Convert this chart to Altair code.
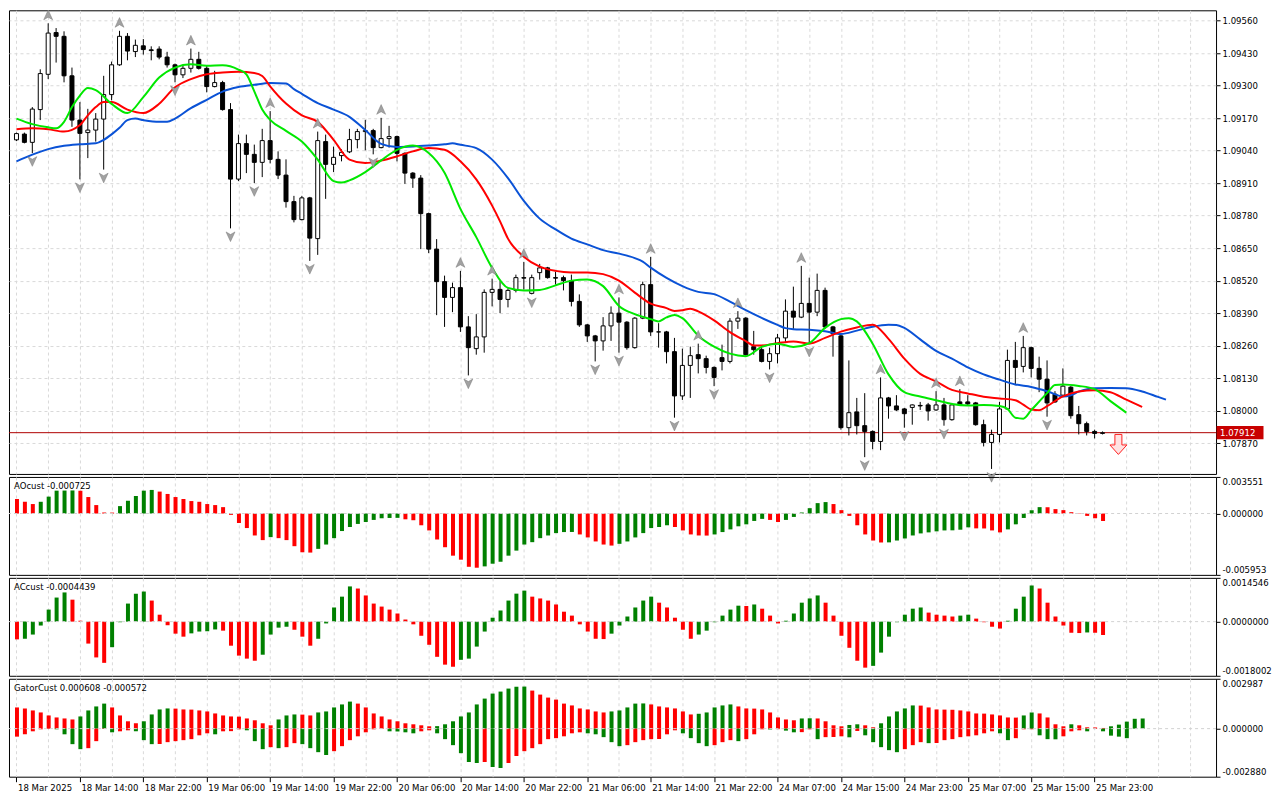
import altair as alt
import pandas as pd

# ---------------- data ----------------
time_labels = ["18 Mar 2025", "18 Mar 14:00", "18 Mar 22:00", "19 Mar 06:00", "19 Mar 14:00",
               "19 Mar 22:00", "20 Mar 06:00", "20 Mar 14:00", "20 Mar 22:00", "21 Mar 06:00",
               "21 Mar 14:00", "21 Mar 22:00", "24 Mar 07:00", "24 Mar 15:00", "24 Mar 23:00",
               "25 Mar 07:00", "25 Mar 15:00", "25 Mar 23:00"]

price_ticks = [1.07870, 1.08000, 1.08130, 1.08260, 1.08390, 1.08520, 1.08650,
               1.08780, 1.08910, 1.09040, 1.09170, 1.09300, 1.09430, 1.09560]

opens = [1.09083,1.09106,1.09073,1.09204,1.09345,1.09512,1.09497,1.09339,1.09162,1.09112,
 1.09122,1.09166,1.09264,1.09383,1.09497,1.09436,1.09459,1.09443,1.09446,1.09414,
 1.09383,1.09343,1.09369,1.09405,1.09369,1.09296,1.09312,1.09204,1.08926,1.09068,
 1.09025,1.08993,1.09080,1.09005,1.08942,1.08836,1.08764,1.08851,1.08688,1.09076,
 1.08985,1.09020,1.09035,1.09084,1.09116,1.09120,1.09052,1.09088,1.09096,1.09029,
 1.08950,1.08930,1.08788,1.08646,1.08516,1.08453,1.08492,1.08335,1.08248,1.08295,
 1.08473,1.08485,1.08445,1.08481,1.08532,1.08469,1.08552,1.08571,1.08532,1.08532,
 1.08520,1.08437,1.08343,1.08299,1.08279,1.08339,1.08390,1.08354,1.08252,1.08370,
 1.08504,1.08315,1.08315,1.08236,1.08059,1.08181,1.08224,1.08208,1.08173,1.08212,
 1.08197,1.08358,1.08370,1.08256,1.08244,1.08197,1.08228,1.08291,1.08398,1.08374,
 1.08429,1.08394,1.08481,1.08335,1.08299,1.07932,1.07995,1.07940,1.07917,1.07877,
 1.08051,1.08019,1.08007,1.08013,1.08021,1.08023,1.08003,1.08023,1.07964,1.08035,
 1.08035,1.08031,1.07944,1.07873,1.07905,1.08007,1.08201,1.08177,1.08252,1.08169,
 1.08126,1.08066,1.08062,1.08094,1.07984,1.07948,1.07917,1.07909]

highs = [1.09112,1.09112,1.09214,1.09365,1.09549,1.09530,1.09517,1.09372,1.09234,1.09207,
 1.09190,1.09339,1.09396,1.09519,1.09510,1.09484,1.09486,1.09457,1.09457,1.09435,
 1.09388,1.09383,1.09448,1.09435,1.09379,1.09359,1.09319,1.09230,1.09104,1.09104,
 1.09064,1.09127,1.09198,1.09037,1.09005,1.08859,1.08859,1.08855,1.09116,1.09104,
 1.09056,1.09045,1.09127,1.09127,1.09163,1.09127,1.09171,1.09139,1.09100,1.09033,
 1.08954,1.08942,1.08792,1.08686,1.08540,1.08512,1.08559,1.08378,1.08386,1.08485,
 1.08528,1.08520,1.08489,1.08544,1.08595,1.08544,1.08587,1.08575,1.08556,1.08540,
 1.08544,1.08465,1.08347,1.08303,1.08374,1.08417,1.08453,1.08358,1.08374,1.08516,
 1.08615,1.08350,1.08319,1.08291,1.08248,1.08256,1.08268,1.08220,1.08177,1.08264,
 1.08370,1.08398,1.08374,1.08319,1.08260,1.08252,1.08307,1.08445,1.08496,1.08579,
 1.08532,1.08548,1.08492,1.08339,1.08303,1.08201,1.08051,1.08070,1.07921,1.08133,
 1.08055,1.08062,1.08011,1.08025,1.08035,1.08031,1.08078,1.08051,1.08031,1.08086,
 1.08062,1.08035,1.07964,1.07924,1.08035,1.08244,1.08275,1.08299,1.08256,1.08216,
 1.08201,1.08078,1.08169,1.08098,1.08019,1.07956,1.07924,1.07917]

lows = [1.09078,1.09069,1.09030,1.09162,1.09326,1.09392,1.09313,1.09135,1.08925,1.09010,
 1.09076,1.08964,1.09241,1.09379,1.09401,1.09414,1.09424,1.09401,1.09405,1.09372,
 1.09313,1.09330,1.09352,1.09364,1.09273,1.09293,1.09200,1.08729,1.08918,1.08950,
 1.08910,1.08934,1.08989,1.08926,1.08812,1.08753,1.08761,1.08599,1.08623,1.08847,
 1.08954,1.08997,1.09030,1.09049,1.09041,1.09025,1.09049,1.09052,1.08997,1.08907,
 1.08891,1.08646,1.08630,1.08382,1.08335,1.08394,1.08315,1.08141,1.08224,1.08232,
 1.08417,1.08390,1.08413,1.08473,1.08484,1.08465,1.08524,1.08528,1.08504,1.08481,
 1.08417,1.08335,1.08275,1.08197,1.08240,1.08279,1.08232,1.08244,1.08248,1.08366,
 1.08299,1.08252,1.08189,1.07972,1.08043,1.08051,1.08149,1.08149,1.08098,1.08161,
 1.08189,1.08327,1.08220,1.08224,1.08193,1.08165,1.08189,1.08275,1.08327,1.08370,
 1.08268,1.08378,1.08327,1.08216,1.07924,1.07901,1.07905,1.07814,1.07846,1.07842,
 1.07968,1.07999,1.07932,1.07944,1.08003,1.07960,1.07999,1.07940,1.07960,1.08023,
 1.08023,1.07940,1.07857,1.07767,1.07873,1.08003,1.08102,1.08153,1.08133,1.08074,
 1.07976,1.08031,1.08059,1.07968,1.07905,1.07901,1.07889,1.07905]

closes = [1.09108,1.09073,1.09206,1.09348,1.09510,1.09497,1.09339,1.09162,1.09109,1.09122,
 1.09166,1.09264,1.09383,1.09497,1.09438,1.09461,1.09444,1.09440,1.09414,1.09383,
 1.09343,1.09369,1.09405,1.09369,1.09296,1.09312,1.09204,1.08926,1.09068,1.09025,
 1.08993,1.09080,1.09005,1.08942,1.08836,1.08764,1.08851,1.08690,1.09080,1.08985,
 1.09013,1.09033,1.09084,1.09116,1.09120,1.09052,1.09088,1.09096,1.09029,1.08950,
 1.08930,1.08788,1.08646,1.08516,1.08453,1.08492,1.08335,1.08252,1.08295,1.08473,
 1.08485,1.08445,1.08481,1.08532,1.08530,1.08532,1.08571,1.08532,1.08530,1.08520,
 1.08437,1.08343,1.08299,1.08279,1.08339,1.08390,1.08354,1.08252,1.08370,1.08504,
 1.08315,1.08315,1.08236,1.08059,1.08181,1.08220,1.08208,1.08173,1.08133,1.08197,
 1.08358,1.08370,1.08224,1.08244,1.08197,1.08228,1.08291,1.08398,1.08374,1.08429,
 1.08394,1.08481,1.08335,1.08307,1.07932,1.07992,1.07940,1.07917,1.07877,1.08051,
 1.08019,1.08003,1.07988,1.08023,1.08019,1.07999,1.08023,1.07964,1.08023,1.08023,
 1.08027,1.07944,1.07873,1.07905,1.08007,1.08201,1.08173,1.08252,1.08169,1.08126,
 1.08031,1.08035,1.08098,1.07980,1.07948,1.07917,1.07909,1.07912]

# Alligator lines (bar position, value)
lips_pos = [0,2,4,5,6,7,8,9,10,12,14,16,18,20,22,24,26,28,29,30,31,32,34,36,38,40,41,
 42,44,46,48,50,52,54,56,58,60,62,64,66,68,70,72,74,76,78,80,81,82,83,84,86,88,90,
 92,94,96,98,100,102,104,105,106,108,110,112,114,116,118,120,122,124,125,126,127,128,
 130,131,132,134,136,138,140]
lips_val = [1.09168,1.09146,1.09133,1.09129,1.09155,1.09214,1.09260,1.09290,1.09282,
 1.09227,1.09190,1.09254,1.09332,1.09372,1.09385,1.09379,1.09381,1.09364,
 1.09345,1.09277,1.09204,1.09163,1.09119,1.09076,1.09004,1.08918,1.08912,
 1.08921,1.08954,1.09001,1.09043,1.09060,1.09030,1.08951,1.08807,1.08694,
 1.08571,1.08491,1.08481,1.08483,1.08501,1.08520,1.08525,1.08498,1.08419,
 1.08386,1.08366,1.08357,1.08373,1.08383,1.08370,1.08300,1.08256,1.08228,
 1.08218,1.08255,1.08268,1.08255,1.08270,1.08331,1.08366,1.08370,1.08357,
 1.08268,1.08145,1.08074,1.08057,1.08042,1.08027,1.08021,1.08023,1.08019,
 1.08007,1.07972,1.07968,1.08002,1.08070,1.08103,1.08105,1.08099,1.08086,
 1.08038,1.07992]

teeth_pos = [0,2,4,6,8,9,10,11,12,14,16,18,20,22,24,26,28,30,31,32,34,36,38,40,42,44,46,
 48,50,52,54,56,58,60,61,62,64,66,68,70,72,74,76,78,80,82,83,84,85,86,88,90,92,93,
 94,96,98,100,102,104,106,108,110,112,114,116,118,120,122,124,126,127,128,129,130,
 132,134,136,138,140,142]
teeth_val = [1.09125,1.09129,1.09125,1.09116,1.09142,1.09181,1.09214,1.09234,1.09234,
 1.09204,1.09190,1.09227,1.09293,1.09326,1.09345,1.09352,1.09355,1.09350,
 1.09338,1.09297,1.09228,1.09181,1.09155,1.09083,1.09004,1.08990,1.09000,
 1.09017,1.09037,1.09050,1.09043,1.08997,1.08925,1.08820,1.08757,1.08688,
 1.08616,1.08576,1.08559,1.08553,1.08553,1.08546,1.08520,1.08472,1.08428,
 1.08410,1.08399,1.08402,1.08408,1.08397,1.08361,1.08314,1.08278,1.08261,
 1.08261,1.08270,1.08277,1.08268,1.08291,1.08316,1.08333,1.08344,1.08287,
 1.08208,1.08147,1.08117,1.08083,1.08069,1.08056,1.08049,1.08042,1.08024,
 1.08005,1.08002,1.08018,1.08057,1.08077,1.08082,1.08074,1.08044,1.08015]

jaw_pos = [0,2,4,6,8,10,11,12,13,14,15,16,18,19,20,22,24,26,28,30,32,34,35,36,38,40,42,
 44,46,48,50,52,54,55,56,58,60,62,64,66,68,70,72,74,76,78,79,80,82,84,86,88,90,92,
 94,96,97,98,100,102,104,106,108,110,111,112,114,116,118,120,122,124,126,128,130,
 132,133,134,136,138,140,142,144,145]
jaw_val = [1.08997,1.09024,1.09046,1.09059,1.09065,1.09069,1.09083,1.09105,1.09131,
 1.09162,1.09168,1.09162,1.09155,1.09155,1.09168,1.09210,1.09243,1.09276,
 1.09294,1.09303,1.09310,1.09308,1.09286,1.09267,1.09230,1.09204,1.09175,
 1.09122,1.09067,1.09054,1.09056,1.09060,1.09065,1.09069,1.09063,1.09050,
 1.09004,1.08930,1.08839,1.08768,1.08725,1.08688,1.08665,1.08642,1.08628,
 1.08610,1.08596,1.08572,1.08531,1.08498,1.08475,1.08466,1.08436,1.08402,
 1.08371,1.08343,1.08330,1.08326,1.08324,1.08318,1.08307,1.08320,1.08336,
 1.08344,1.08343,1.08331,1.08285,1.08239,1.08208,1.08173,1.08145,1.08124,
 1.08105,1.08095,1.08078,1.08057,1.08062,1.08076,1.08090,1.08091,1.08090,
 1.08077,1.08055,1.08044]

fractal_up = [4, 13, 22, 32, 38, 46, 56, 60, 64, 76, 80, 86, 91, 99, 109, 116, 119, 127]
fractal_down = [2, 8, 11, 20, 27, 30, 37, 45, 57, 65, 73, 76, 83, 88, 95, 100, 107, 112,
                117, 123, 130]

current_price = [1.07912]
signal_pos = [139]
signal_price = [1.07865]

ao = [0.00141,0.00114,0.00092,0.00114,0.00164,0.00222,0.00223,0.00224,0.00221,0.00160,
 0.00082,0.00010,0.00009,0.00072,0.00124,0.00170,0.00222,0.00229,0.00213,0.00190,
 0.00160,0.00141,0.00121,0.00114,0.00092,0.00082,0.00062,-0.00013,-0.00092,-0.00141,
 -0.00213,-0.00258,-0.00229,-0.00239,-0.00258,-0.00317,-0.00376,-0.00379,-0.00343,-0.00301,
 -0.00239,-0.00170,-0.00131,-0.00101,-0.00082,-0.00062,-0.00046,-0.00043,-0.00042,-0.00056,
 -0.00065,-0.00114,-0.00164,-0.00252,-0.00327,-0.00409,-0.00448,-0.00517,-0.00526,-0.00513,
 -0.00487,-0.00468,-0.00409,-0.00360,-0.00301,-0.00278,-0.00239,-0.00213,-0.00190,-0.00180,
 -0.00179,-0.00203,-0.00232,-0.00271,-0.00301,-0.00311,-0.00294,-0.00271,-0.00232,-0.00190,
 -0.00141,-0.00131,-0.00114,-0.00131,-0.00164,-0.00203,-0.00213,-0.00214,-0.00203,-0.00180,
 -0.00154,-0.00124,-0.00105,-0.00072,-0.00052,-0.00062,-0.00082,-0.00062,-0.00033,0.00010,
 0.00052,0.00101,0.00111,0.00092,0.00033,-0.00023,-0.00114,-0.00203,-0.00262,-0.00281,
 -0.00280,-0.00262,-0.00242,-0.00213,-0.00193,-0.00183,-0.00173,-0.00164,-0.00163,-0.00157,
 -0.00134,-0.00144,-0.00145,-0.00164,-0.00183,-0.00154,-0.00105,-0.00043,0.00033,0.00062,
 0.00061,0.00043,0.00033,0.00013,-0.00003,-0.00023,-0.00046,-0.000725]

ac = [-0.00059,-0.00057,-0.00043,-0.00013,0.00040,0.00080,0.00097,0.00073,0.00003,-0.00073,
 -0.00119,-0.00137,-0.00085,-0.00002,0.00060,0.00093,0.00100,0.00070,0.00023,-0.00012,
 -0.00040,-0.00050,-0.00039,-0.00033,-0.00032,-0.00026,-0.00030,-0.00080,-0.00113,-0.00123,
 -0.00130,-0.00110,-0.00043,-0.00020,-0.00017,-0.00027,-0.00050,-0.00080,-0.00057,-0.00006,
 0.00047,0.00083,0.00117,0.00110,0.00087,0.00060,0.00050,0.00040,0.00027,0.00007,
 -0.00009,-0.00047,-0.00077,-0.00117,-0.00143,-0.00150,-0.00127,-0.00123,-0.00083,-0.00033,
 0.00013,0.00037,0.00070,0.00093,0.00103,0.00083,0.00077,0.00070,0.00057,0.00033,
 0.00020,-0.00009,-0.00033,-0.00057,-0.00058,-0.00040,-0.00013,0.00017,0.00047,0.00070,
 0.00083,0.00063,0.00047,0.00013,-0.00027,-0.00057,-0.00043,-0.00030,-0.00002,0.00020,
 0.00040,0.00053,0.00052,0.00057,0.00043,0.00020,-0.00006,0.00003,0.00027,0.00063,
 0.00077,0.00087,0.00063,0.00020,-0.00047,-0.00087,-0.00130,-0.00153,-0.00147,-0.00103,
 -0.00050,-0.00002,0.00023,0.00043,0.00047,0.00030,0.00023,0.00020,0.00017,0.00020,
 0.00023,0.00010,-0.00002,-0.00017,-0.00023,0.00003,0.00043,0.00083,0.00120,0.00110,
 0.00063,0.00017,-0.00013,-0.00037,-0.00038,-0.00036,-0.00037,-0.0004439]

gator_up = [0.00127,0.00121,0.00109,0.00097,0.00079,0.00067,0.00061,0.00055,0.00073,0.00109,
 0.00133,0.00150,0.00127,0.00079,0.00044,0.00032,0.00044,0.00085,0.00115,0.00121,
 0.00120,0.00115,0.00114,0.00109,0.00103,0.00091,0.00079,0.00073,0.00072,0.00061,
 0.00050,0.00032,0.00020,0.00055,0.00079,0.00085,0.00084,0.00079,0.00097,0.00103,
 0.00127,0.00145,0.00162,0.00150,0.00127,0.00091,0.00073,0.00055,0.00044,0.00032,
 0.00026,0.00020,0.00014,0.00015,0.00026,0.00044,0.00073,0.00097,0.00145,0.00180,
 0.00210,0.00222,0.00240,0.00251,0.00252,0.00228,0.00204,0.00186,0.00174,0.00150,
 0.00139,0.00121,0.00115,0.00103,0.00097,0.00103,0.00109,0.00127,0.00150,0.00151,
 0.00145,0.00133,0.00127,0.00121,0.00103,0.00085,0.00089,0.00097,0.00127,0.00139,
 0.00145,0.00133,0.00121,0.00120,0.00115,0.00097,0.00067,0.00055,0.00050,0.00061,
 0.00062,0.00061,0.00044,0.00020,0.00014,0.00022,0.00026,0.00020,0.00008,0.00032,
 0.00073,0.00103,0.00121,0.00139,0.00138,0.00127,0.00115,0.00114,0.00113,0.00109,
 0.00103,0.00091,0.00090,0.00085,0.00079,0.00067,0.00066,0.00079,0.00097,0.00091,
 0.00067,0.00026,0.00014,0.00026,0.00020,0.00008,0.00007,0.00004,0.00014,0.00024,
 0.00042,0.00059,0.000608]

gator_down = [-0.00048,-0.00034,-0.00016,-0.00004,-0.00001,-0.00004,-0.00034,-0.00093,-0.00123,-0.00117,
 -0.00075,-0.00002,-0.00022,-0.00016,-0.00010,-0.00016,-0.00069,-0.00093,-0.00092,-0.00081,
 -0.00075,-0.00069,-0.00063,-0.00040,-0.00028,-0.00034,-0.00016,-0.00015,-0.00004,-0.00010,
 -0.00075,-0.00123,-0.00111,-0.00117,-0.00111,-0.00087,-0.00093,-0.00117,-0.00141,-0.00158,
 -0.00135,-0.00105,-0.00069,-0.00046,-0.00022,-0.00004,-0.00002,-0.00016,-0.00017,-0.00022,
 -0.00028,-0.00016,-0.00010,-0.00028,-0.00063,-0.00099,-0.00147,-0.00200,-0.00206,-0.00200,
 -0.00230,-0.00236,-0.00206,-0.00164,-0.00135,-0.00117,-0.00093,-0.00063,-0.00057,-0.00046,
 -0.00028,-0.00022,-0.00028,-0.00034,-0.00051,-0.00081,-0.00105,-0.00099,-0.00081,-0.00069,
 -0.00063,-0.00062,-0.00034,-0.00010,-0.00028,-0.00057,-0.00087,-0.00105,-0.00099,-0.00081,
 -0.00069,-0.00075,-0.00063,-0.00034,-0.00004,-0.00005,-0.00003,-0.00012,-0.00022,-0.00021,
 -0.00004,-0.00063,-0.00051,-0.00050,-0.00046,-0.00052,-0.00014,-0.00040,-0.00081,-0.00111,
 -0.00129,-0.00141,-0.00123,-0.00099,-0.00081,-0.00087,-0.00086,-0.00069,-0.00063,-0.00051,
 -0.00046,-0.00040,-0.00028,-0.00016,-0.00028,-0.00069,-0.00057,-0.00004,-0.00003,-0.00040,
 -0.00063,-0.00064,-0.00046,-0.00016,-0.00010,-0.00016,-0.00002,-0.00016,-0.00042,-0.00048,
 -0.000572]

ao_range = [-0.005953, 0.003551]
ac_range = [-0.0018002, 0.0014546]
gator_range = [-0.002880, 0.002987]
ao_title = "AOcust -0.000725"
ac_title = "ACcust -0.0004439"
gator_title = "GatorCust 0.000608 -0.000572"

# ---------------- layout / style ----------------
W = 1208
H_MAIN = 464
H_SUB = 98
FONT = "DejaVu Sans Condensed, Liberation Sans, sans-serif"
FS = 9.5
GREEN = "#008000"
RED = "#ff0000"
XDOM = [-0.3125, 150.6875]
GRID_VALS = list(range(0, 151, 4))

XS = alt.Scale(domain=XDOM, nice=False, zero=False)
AX_X_GRID = alt.Axis(values=GRID_VALS, grid=True, labels=False, ticks=False,
                     domain=False, title=None)
lbl_array = "[" + ",".join("'" + s + "'" for s in time_labels) + "]"
last_lbl = 8 * (len(time_labels) - 1)
lbl_test = f"datum.value % 8 === 0 && datum.value <= {last_lbl}"
AX_X_BOTTOM = alt.Axis(values=GRID_VALS, grid=True, domain=False, title=None,
                       labelExpr=f"{lbl_test} ? {lbl_array}[datum.value / 8] : ''",
                       labelAlign="left", labelBaseline="top", labelPadding=1,
                       labelOffset=1, labelOverlap=False, labelFlush=False,
                       tickSize=5,
                       tickOpacity={"condition": {"test": lbl_test, "value": 1}, "value": 0})

YS_MAIN = alt.Scale(domain=[1.07747, 1.09601], nice=False, zero=False)
AX_Y_MAIN = alt.Axis(orient="right", values=price_ticks, format=".5f", grid=True,
                     tickSize=4, domain=False, title=None, labelPadding=2)


def xm(field="pos:Q", axis=AX_X_GRID):
    return alt.X(field, scale=XS, axis=axis)


def ym(field):
    return alt.Y(field, scale=YS_MAIN, axis=AX_Y_MAIN)


# ---------------- main panel ----------------
cdf = pd.DataFrame({"pos": list(range(len(opens))), "open": opens, "high": highs,
                    "low": lows, "close": closes})

price_df = pd.DataFrame({"price": current_price,
                         "label": [f"{p:.5f}" for p in current_price]})
price_rule = alt.Chart(price_df).mark_rule(color="#b00000", strokeWidth=1).encode(
    y=ym("price:Q"))

wicks = alt.Chart(cdf).mark_rule(color="black", strokeWidth=1).encode(
    x=xm(), y=ym("low:Q"), y2="high:Q")
bodies = alt.Chart(cdf).mark_bar(width=4, stroke="black", strokeWidth=1).encode(
    x=xm(), y=ym("open:Q"), y2="close:Q",
    fill=alt.condition("datum.close >= datum.open", alt.value("white"), alt.value("black")))


def line_layer(pos, val, color):
    d = pd.DataFrame({"pos": pos, "v": val})
    return alt.Chart(d).mark_line(color=color, strokeWidth=2, interpolate="monotone").encode(
        x=xm(), y=ym("v:Q"))


jaw = line_layer(jaw_pos, jaw_val, "#0a52d6")
teeth = line_layer(teeth_pos, teeth_val, "#ff0000")
lips = line_layer(lips_pos, lips_val, "#00e800")

UP_PATH = "M0,-1L0.85,0.85L0,0.35L-0.85,0.85Z"
DN_PATH = "M0,1L0.85,-0.85L0,-0.35L-0.85,-0.85Z"
fu = pd.DataFrame({"pos": fractal_up, "p": [highs[i] for i in fractal_up]})
fd = pd.DataFrame({"pos": fractal_down, "p": [lows[i] for i in fractal_down]})
frac_up = alt.Chart(fu).mark_point(shape=UP_PATH, filled=True, size=110, color="#a2a2a2",
                                   opacity=1, stroke="#7a7a7a", strokeWidth=0.5,
                                   yOffset=-8).encode(x=xm(), y=ym("p:Q"))
frac_dn = alt.Chart(fd).mark_point(shape=DN_PATH, filled=True, size=110, color="#a2a2a2",
                                   opacity=1, stroke="#7a7a7a", strokeWidth=0.5,
                                   yOffset=8).encode(x=xm(), y=ym("p:Q"))

TAG_PATH = "M-1,-0.28L1,-0.28L1,0.28L-1,0.28Z"
tag_box = alt.Chart(price_df).mark_point(shape=TAG_PATH, filled=True, size=47 * 47,
                                         color="#c80000", opacity=1).encode(
    x=alt.value(W + 24), y=ym("price:Q"))
tag_text = alt.Chart(price_df).mark_text(align="left", baseline="middle", color="white",
                                         font=FONT, fontSize=FS).encode(
    x=alt.value(W + 4), y=ym("price:Q"), text="label:N")

ARROW_PATH = "M-0.35,-1L0.35,-1L0.35,0.05L0.85,0.05L0,1L-0.85,0.05L-0.35,0.05Z"
sig_df = pd.DataFrame({"pos": signal_pos, "p": signal_price})
signal = alt.Chart(sig_df).mark_point(shape=ARROW_PATH, filled=True, size=400,
                                      fill="#ffe2e2", stroke="#ff2020", strokeWidth=1,
                                      opacity=1).encode(x=xm(), y=ym("p:Q"))

main = alt.layer(price_rule, wicks, bodies, jaw, teeth, lips, frac_up, frac_dn,
                 signal, tag_box, tag_text).properties(width=W, height=H_MAIN)


# ---------------- sub panels ----------------
def dir_colors(vals, use_abs=False):
    cols = []
    prev = "r"
    for i, v in enumerate(vals):
        if i == 0:
            col = prev
        else:
            a = abs(v) if use_abs else v
            b = abs(vals[i - 1]) if use_abs else vals[i - 1]
            col = "g" if a > b else ("r" if a < b else prev)
        cols.append(col)
        prev = col
    return cols


def sub_panel(series, rng, fmt, title, bottom=False):
    ys = alt.Scale(domain=rng, nice=False, zero=False)
    ax = alt.Axis(orient="right", values=[rng[0], 0.0, rng[1]],
                  labelExpr=f"replace(format(datum.value, '{fmt}'), '\u2212', '-')",
                  labelFlush=True, grid=False, tickSize=4, domain=False, title=None,
                  labelPadding=2)
    xax = AX_X_BOTTOM if bottom else AX_X_GRID
    layers = []
    for vals, use_abs in series:
        d = pd.DataFrame({"pos": list(range(len(vals))), "v": vals,
                          "col": dir_colors(vals, use_abs), "zero": 0.0})
        layers.append(alt.Chart(d).mark_bar(width=4, xOffset=0.5).encode(
            x=xm(axis=xax), y=alt.Y("v:Q", scale=ys, axis=ax), y2="zero:Q",
            color=alt.Color("col:N", scale=alt.Scale(domain=["g", "r"], range=[GREEN, RED]),
                            legend=None)))
    zdf = pd.DataFrame({"z": [0.0]})
    layers.append(alt.Chart(zdf).mark_rule(color="#d2d2d2", strokeDash=[3, 3],
                                           strokeWidth=1).encode(
        y=alt.Y("z:Q", scale=ys, axis=ax)))
    tdf = pd.DataFrame({"t": [title]})
    layers.append(alt.Chart(tdf).mark_text(align="left", baseline="middle", font=FONT,
                                           fontSize=FS, color="black").encode(
        x=alt.value(5), y=alt.value(9), text="t:N"))
    return alt.layer(*layers).properties(width=W, height=H_SUB)


ao_chart = sub_panel([(ao, False)], ao_range, ".6f", ao_title)
ac_chart = sub_panel([(ac, False)], ac_range, ".7f", ac_title)
gator_chart = sub_panel([(gator_up, False), (gator_down, True)], gator_range, ".6f",
                        gator_title, bottom=True)

chart = alt.vconcat(main, ao_chart, ac_chart, gator_chart, spacing=3,
                    bounds="flush").properties(
    padding=0, background="white"
).configure_view(
    stroke="black", strokeWidth=1
).configure_axis(
    labelFont=FONT, labelFontSize=FS, labelColor="black", tickColor="black",
    gridColor="#d9d9d9", gridDash=[3, 3], gridWidth=1
)

chart.save("out.html", embed_options={"renderer": "svg", "actions": False})
